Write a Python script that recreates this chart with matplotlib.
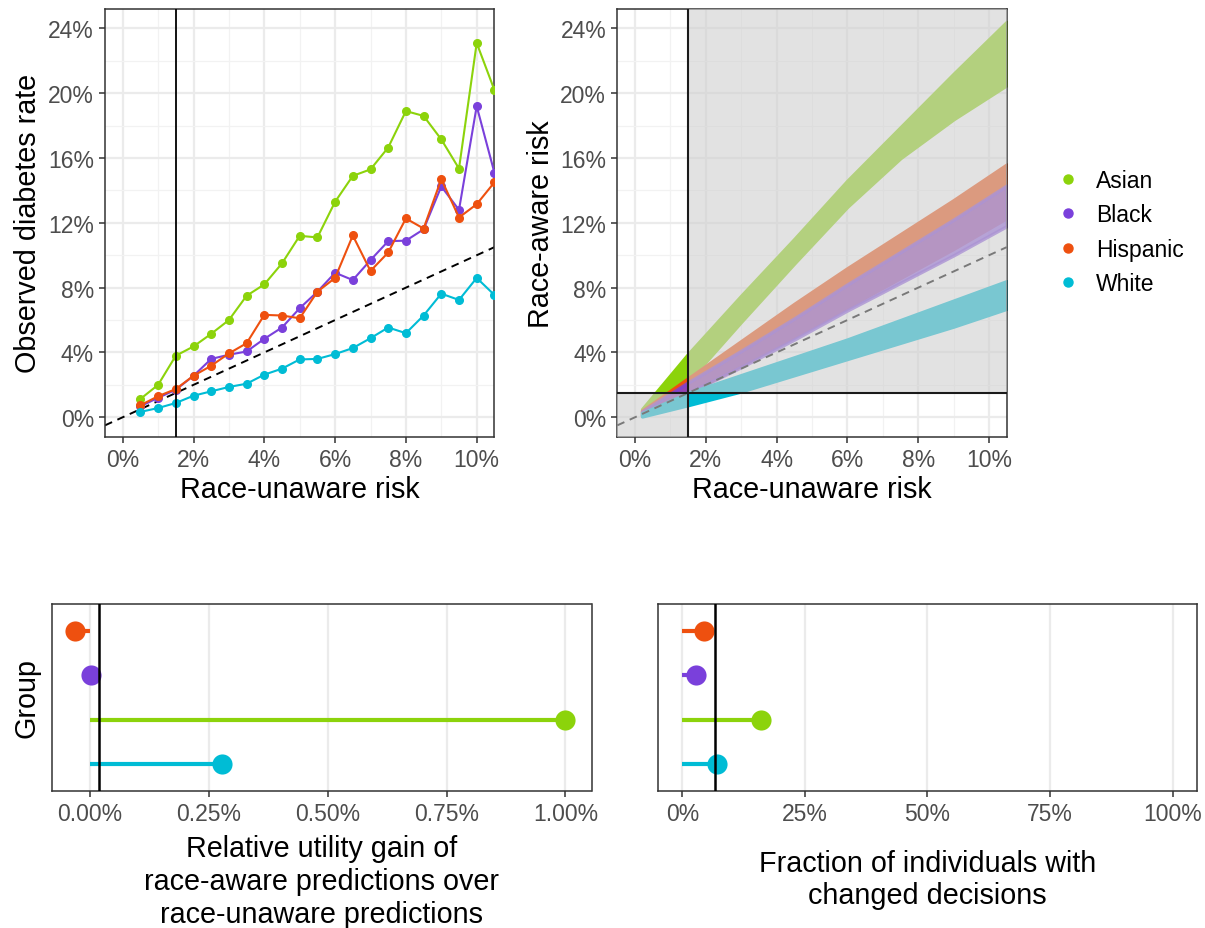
import matplotlib
matplotlib.use('Agg')
import matplotlib.pyplot as plt
from matplotlib.lines import Line2D
from matplotlib.patches import Rectangle
from matplotlib.ticker import FuncFormatter, MultipleLocator

plt.rcParams['font.family'] = ['Liberation Sans', 'DejaVu Sans']

groups = ['Asian', 'Black', 'Hispanic', 'White']
colors = {'Asian': '#8CD30B', 'Black': '#7A40DB',
          'Hispanic': '#EE500F', 'White': '#00BCD5'}

# calibration: binned race-unaware risk (%) vs observed diabetes rate (%)
risk_bins = [0.5, 1.0, 1.5, 2.0, 2.5, 3.0, 3.5, 4.0, 4.5, 5.0, 5.5,
             6.0, 6.5, 7.0, 7.5, 8.0, 8.5, 9.0, 9.5, 10.0, 10.5]
obs_asian = [1.13, 2.0, 3.8, 4.37, 5.15, 6.0, 7.5, 8.2, 9.5, 11.2, 11.1,
             13.3, 14.9, 15.3, 16.65, 18.9, 18.6, 17.15, 15.35, 23.1, 20.2]
obs_black = [0.68, 1.2, 1.7, 2.56, 3.6, 3.86, 4.06, 4.84, 5.54, 6.73, 7.75,
             8.92, 8.47, 9.7, 10.87, 10.9, 11.6, 14.25, 12.8, 19.2, 15.1]
obs_hispanic = [0.74, 1.3, 1.74, 2.56, 3.18, 3.94, 4.57, 6.32, 6.28, 6.11, 7.75,
                8.6, 11.22, 9.03, 10.17, 12.27, 11.65, 14.7, 12.33, 13.15, 14.5]
obs_white = [0.33, 0.57, 0.88, 1.33, 1.6, 1.87, 2.07, 2.63, 3.0, 3.57, 3.6,
             3.9, 4.27, 4.88, 5.54, 5.19, 6.28, 7.63, 7.24, 8.6, 7.55]
observed = {'Asian': obs_asian, 'Black': obs_black,
            'Hispanic': obs_hispanic, 'White': obs_white}

# race-aware vs race-unaware risk clouds, traced by their upper/lower edges (%)
cloud_x = [0.2, 1.5, 3.0, 4.5, 6.0, 7.5, 9.0, 10.5]
cloud_hi = {'Asian': [0.5, 3.9, 7.5, 11.0, 14.6, 17.9, 21.2, 24.4],
            'Hispanic': [0.4, 2.4, 4.7, 7.0, 9.2, 11.3, 13.4, 15.6],
            'Black': [0.35, 2.15, 4.1, 6.1, 8.2, 10.2, 12.2, 14.3],
            'White': [0.25, 1.5, 2.6, 3.7, 4.8, 6.0, 7.2, 8.4]}
cloud_lo = {'Asian': [0.3, 2.2, 5.9, 9.5, 13.0, 16.0, 18.4, 20.5],
            'Hispanic': [0.1, 1.5, 3.2, 5.0, 6.8, 8.6, 10.4, 12.3],
            'Black': [0.1, 1.5, 3.1, 4.8, 6.6, 8.3, 10.0, 11.8],
            'White': [0.05, 0.75, 1.6, 2.6, 3.6, 4.6, 5.6, 6.7]}
threshold = 1.5

# lollipops, top to bottom
lolli_groups = ['Hispanic', 'Black', 'Asian', 'White']
utility_gain = [-0.031, 0.002, 1.0, 0.278]
utility_ref = 0.019
changed_frac = [4.35, 2.85, 16.1, 7.07]
changed_ref = 6.65

W, H = 1205, 929
fig = plt.figure(figsize=(W / 100, H / 100), dpi=100)


def px_axes(l, t, r, b):
    return fig.add_axes([l / W, 1 - b / H, (r - l) / W, (b - t) / H])


def style(ax):
    for s in ax.spines.values():
        s.set_color('#333333')
        s.set_linewidth(1.1)
    ax.tick_params(which='major', length=4, width=1.1, color='#333333',
                   labelcolor='#4D4D4D', labelsize=16.5, pad=4)
    ax.tick_params(which='minor', length=0)
    ax.set_axisbelow(True)


pct0 = FuncFormatter(lambda v, _: f'{v:.0f}%')
title_fs = 20.7

# top left: calibration
ax1 = px_axes(105, 10, 494.4, 437.7)
style(ax1)
for g in groups:
    ax1.plot(risk_bins, observed[g], '-o', color=colors[g], lw=1.5, ms=5.5, zorder=3)
ax1.axline((0, 0), slope=1, color='black', ls='--', lw=1.4, dashes=(4, 3), zorder=2)
ax1.axvline(threshold, color='black', lw=1.3, zorder=4)
ax1.set_xlim(-0.5, 10.5)
ax1.set_ylim(-1.2, 25.2)
ax1.xaxis.set_major_locator(MultipleLocator(2))
ax1.xaxis.set_minor_locator(MultipleLocator(1))
ax1.yaxis.set_major_locator(MultipleLocator(4))
ax1.yaxis.set_minor_locator(MultipleLocator(2))
ax1.xaxis.set_major_formatter(pct0)
ax1.yaxis.set_major_formatter(pct0)
ax1.grid(which='major', color='#EBEBEB', lw=1.6)
ax1.grid(which='minor', color='#F2F2F2', lw=0.9)
ax1.set_xlabel('Race-unaware risk', fontsize=title_fs, labelpad=3)
ax1.set_ylabel('Observed diabetes rate', fontsize=title_fs, labelpad=4)

# top right: race-aware vs race-unaware
ax2 = px_axes(617.3, 10, 1006.7, 437.7)
style(ax2)
for g in ['Asian', 'Hispanic', 'Black', 'White']:
    ax2.fill_between(cloud_x, cloud_lo[g], cloud_hi[g], color=colors[g],
                     alpha=0.8 if g == 'Black' else 1.0,
                     lw=2.5, edgecolor=colors[g], joinstyle='round', zorder=2)
ax2.axline((0, 0), slope=1, color='black', ls='--', lw=1.4, dashes=(4, 3), zorder=3)
ax2.add_patch(Rectangle((-1, -2), threshold + 1, threshold + 2,
                        color='#CFCFCF', alpha=0.59, lw=0, zorder=4))
ax2.add_patch(Rectangle((threshold, threshold), 12, 30,
                        color='#CFCFCF', alpha=0.59, lw=0, zorder=4))
ax2.axvline(threshold, color='#1A1A1A', lw=1.5, zorder=5)
ax2.axhline(threshold, color='#1A1A1A', lw=1.5, zorder=5)
ax2.set_xlim(-0.5, 10.5)
ax2.set_ylim(-1.2, 25.2)
ax2.xaxis.set_major_locator(MultipleLocator(2))
ax2.xaxis.set_minor_locator(MultipleLocator(1))
ax2.yaxis.set_major_locator(MultipleLocator(4))
ax2.yaxis.set_minor_locator(MultipleLocator(2))
ax2.xaxis.set_major_formatter(pct0)
ax2.yaxis.set_major_formatter(pct0)
ax2.grid(which='major', color='#EBEBEB', lw=1.6)
ax2.grid(which='minor', color='#F2F2F2', lw=0.9)
ax2.set_xlabel('Race-unaware risk', fontsize=title_fs, labelpad=3)
ax2.set_ylabel('Race-aware risk', fontsize=title_fs, labelpad=4)

handles = [Line2D([], [], marker='o', ls='', color=colors[g], ms=6.5) for g in groups]
fig.legend(handles, groups, loc='center left', bbox_to_anchor=(1034 / W, 1 - 233 / H),
           frameon=False, fontsize=16.5, handletextpad=0.6, labelspacing=0.5,
           handlelength=1.2)

# bottom: lollipops
ypos = [4, 3, 2, 1]


def lollipop(ax, vals, ref):
    style(ax)
    for g, y, v in zip(lolli_groups, ypos, vals):
        ax.plot([0, v], [y, y], color=colors[g], lw=3, solid_capstyle='butt', zorder=2)
        ax.plot(v, y, 'o', color=colors[g], ms=14.5, mec='none', zorder=3)
    ax.axvline(ref, color='black', lw=1.8, zorder=4)
    ax.set_ylim(0.4, 4.6)
    ax.set_yticks([])
    ax.grid(axis='x', which='major', color='#EBEBEB', lw=1.6)


ax3 = px_axes(52, 605, 591.5, 792)
lollipop(ax3, utility_gain, utility_ref)
ax3.set_xlim(-0.08, 1.055)
ax3.xaxis.set_major_locator(MultipleLocator(0.25))
ax3.xaxis.set_major_formatter(FuncFormatter(lambda v, _: f'{v:.2f}%'))
ax3.set_xlabel('Relative utility gain of\nrace-aware predictions over\nrace-unaware predictions',
               fontsize=title_fs, linespacing=1.22, va='center')
ax3.xaxis.set_label_coords(0.5, (792 - 882) / 187)
ax3.set_ylabel('Group', fontsize=title_fs, labelpad=8)

ax4 = px_axes(658, 605, 1197, 792)
lollipop(ax4, changed_frac, changed_ref)
ax4.set_xlim(-5, 105)
ax4.xaxis.set_major_locator(MultipleLocator(25))
ax4.xaxis.set_major_formatter(pct0)
ax4.set_xlabel('Fraction of individuals with\nchanged decisions',
               fontsize=title_fs, linespacing=1.22, va='center')
ax4.xaxis.set_label_coords(0.5, (792 - 880) / 187)

fig.savefig('out.png', dpi=100)
